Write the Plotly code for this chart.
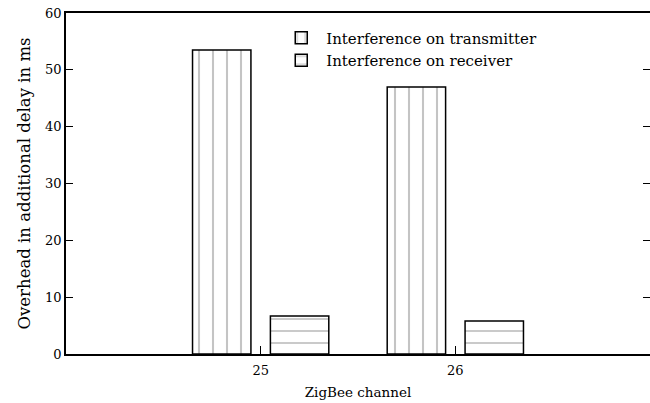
import plotly.graph_objects as go

channels = [25, 26]
tx_delay = [53.5, 47.0]
rx_delay = [6.7, 5.8]
series_names = ["Interference on transmitter", "Interference on receiver"]

FONT = "DejaVu Serif"

fig = go.Figure()
fig.add_trace(go.Bar(
    x=channels, y=tx_delay, name=series_names[0],
    width=0.3, offset=-0.35,
    marker=dict(color="white", line=dict(color="black", width=1.5),
                pattern=dict(shape="|", fgcolor="#8a8a8a", bgcolor="white",
                             size=14, solidity=0.15)),
))
fig.add_trace(go.Bar(
    x=channels, y=rx_delay, name=series_names[1],
    width=0.3, offset=0.05,
    marker=dict(color="white", line=dict(color="black", width=1.5),
                pattern=dict(shape="-", fgcolor="#8a8a8a", bgcolor="white",
                             size=12, solidity=0.15)),
))

fig.update_layout(
    width=650, height=403,
    margin=dict(l=66, r=0, t=13, b=49),
    plot_bgcolor="white", paper_bgcolor="white",
    font=dict(family=FONT, size=13, color="black"),
    showlegend=True,
    legend=dict(x=0.36, xanchor="left", y=0.975, yanchor="top",
                bgcolor="rgba(0,0,0,0)", font=dict(family=FONT, size=15),
                itemwidth=40, tracegroupgap=4),
    xaxis=dict(range=[24, 27], tickvals=channels, ticktext=[str(c) for c in channels],
               ticks="inside", ticklen=8, tickcolor="black", automargin=False,
               ticklabelstandoff=4,
               showline=True, linecolor="black", linewidth=1.5, mirror=True,
               showgrid=False, zeroline=False,
               title=dict(text="ZigBee channel", standoff=10,
                          font=dict(family=FONT, size=13.5))),
    xaxis2=dict(range=[24, 27], overlaying="x", side="top", anchor="y",
                dtick=0.5, tick0=24, ticks="inside", ticklen=7, tickcolor="black",
                showticklabels=False, showgrid=False, zeroline=False, showline=False),
    yaxis=dict(range=[0, 60], dtick=10, ticks="inside", ticklen=7, tickcolor="black",
               showline=True, linecolor="black", linewidth=1.5, mirror="ticks",
               showgrid=False, zeroline=False, automargin=False,
               title=dict(text="Overhead in additional delay in ms", standoff=10,
                          font=dict(family=FONT, size=16.5))),
)

# drop the page's default body margin so the figure fills the window
fig.write_html("out.html", config={"displayModeBar": False},
               post_script="document.body.style.margin='0';"
                           "document.body.style.overflow='hidden';")
